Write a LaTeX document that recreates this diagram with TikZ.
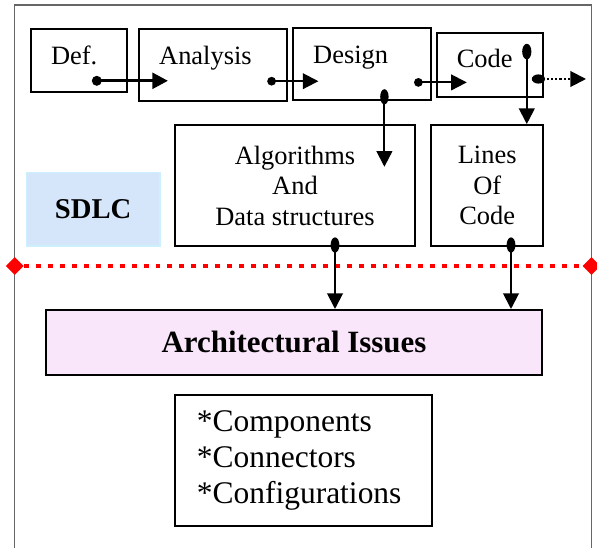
\documentclass[tikz,border=0pt]{standalone}
\usepackage{fontspec}
\setmainfont{Liberation Serif}
\usetikzlibrary{arrows.meta,shapes.geometric}
\newcommand{\rowfont}{\fontsize{18.8}{21.7}\selectfont}
\newcommand{\listfont}{\fontsize{22.4}{25.6}\selectfont}
\definecolor{sdlcblue}{RGB}{214,230,250}
\definecolor{sdlcedge}{RGB}{205,240,255}
\definecolor{archpink}{RGB}{250,230,250}
\begin{document}
\begin{tikzpicture}[stage node/.style={draw,line width=1.3pt,inner xsep=0.5cm,inner ysep=0pt,
                       text height=0pt,text depth=0pt,align=left,font=\rowfont},
                    work node/.style={draw,line width=1.3pt,align=center,font=\rowfont},
                    flow/.style={line width=1.4pt,-{Triangle[length=0.39cm,width=0.39cm]}},
                    big flow/.style={flow,line width=2.4pt},
                    cut/.style={red,line width=3.2pt,dash pattern=on 3.5pt off 5pt},
                    cut end/.style={diamond,fill=red,inner sep=0pt,minimum size=0.45cm}
                   ]
  \useasboundingbox (0,0) rectangle (14.925,13.7);
  \draw[black!60,line width=0.8pt] (0.37,0) -- (0.37,13.575) -- (14.79,13.575) -- (14.79,0);

  % life cycle row
  \node[stage node,text width=1.41cm,minimum height=1.57cm,text height=0.2cm] (def) at (1.98,12.18) {Def.};
  \node[stage node,text width=2.70cm,minimum height=1.785cm] (ana) at (5.33,12.075) {Analysis};
  \node[stage node,text width=2.44cm,minimum height=1.79cm] (des) at (9.05,12.1) {Design};
  \node[stage node,text width=1.66cm,minimum height=1.6cm,text height=0.15cm] (code) at (12.25,12.08) {Code};

  \node[work node,minimum width=6cm,minimum height=3.025cm] (alg) at (7.375,9.0625) {Algorithms\\And\\Data structures};
  \node[work node,minimum width=2.81cm,minimum height=3.025cm] (loc) at (12.18,9.0625) {Lines\\Of\\Code};

  \node[draw=sdlcedge,fill=sdlcblue,line width=1pt,minimum width=3.33cm,minimum height=1.83cm,
        font=\fontsize{20.4}{24}\selectfont\bfseries] (sdlc) at (2.33,8.47) {SDLC};

  % border between the two parts
  \node[cut end] (ldia) at (0.37,7.05) {};
  \node[cut end] (rdia) at (14.79,7.05) {};
  \draw[cut] (ldia) -- (rdia);

  \node[draw,fill=archpink,line width=1.3pt,minimum width=12.41cm,minimum height=1.625cm,
        font=\fontsize{22}{26}\selectfont\bfseries] (arch) at (7.35,5.14) {Architectural Issues};
  \node[draw,line width=1.3pt,inner xsep=0.55cm,text width=5.32cm,minimum height=3.27cm,
        align=left,font=\listfont] (list) at (7.58,2.19) {*Components\\{}*Connectors\\{}*Configurations};

  \coordinate (def out) at (2.42,11.68);
  \coordinate (ana in) at (4.2,11.68);
  \coordinate (ana out) at (6.79,11.67);
  \coordinate (des in) at (7.96,11.67);
  \coordinate (des out) at (10.46,11.64);
  \coordinate (code in) at (11.67,11.64);
  \coordinate (code out) at (13.46,11.725);
  \coordinate (beyond) at (14.65,11.725);
  \coordinate (code down) at (13.17,12.41);
  \coordinate (des down) at (9.61,11.28);
  \coordinate (alg in) at (9.61,9.53);
  \coordinate (alg out) at (8.375,7.575);
  \coordinate (loc out) at (12.775,7.575);

  \path%
   (def out) edge [big flow] (ana in)
   (ana out) edge [flow] (des in)
   (des out) edge [flow] (code in)
   (code out) edge [flow,dash pattern=on 1.5pt off 1.5pt] (beyond)
   (code down) edge [flow] (code down |- loc.north)
   (des down) edge [flow] (alg in)
   (alg out) edge [flow] (alg out |- arch.north)
   (loc out) edge [flow] (loc out |- arch.north);

  \fill (def out) circle (0.125);
  \fill (ana out) circle (0.11);
  \fill (des out) circle (0.11);
  \fill (code out) ellipse (0.165 and 0.115);
  \fill (code down) ellipse (0.115 and 0.195);
  \fill (des down) ellipse (0.105 and 0.19);
  \fill (alg out) ellipse (0.11 and 0.19);
  \fill (loc out) ellipse (0.11 and 0.19);
\end{tikzpicture}
\end{document}
